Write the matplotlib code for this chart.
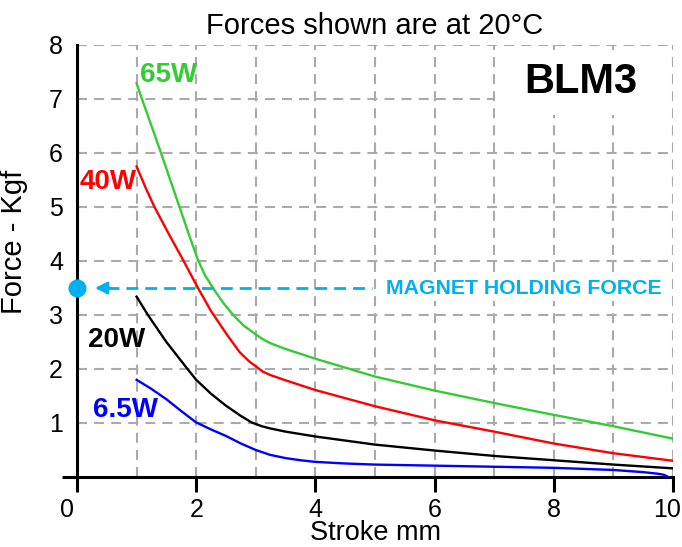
import matplotlib
matplotlib.use("Agg")
import matplotlib.pyplot as plt
import matplotlib.transforms as mtransforms
from matplotlib.patches import Rectangle

plt.rcParams['font.family'] = ['Liberation Sans', 'DejaVu Sans']

# Force (kgf) vs stroke (mm) for each coil power
x_65w = [1.0, 1.09, 1.41, 1.72, 1.9, 2.03, 2.15, 2.33, 2.45, 2.62, 2.8, 3.0, 3.12, 3.24, 3.5,
         4.0, 5.0, 6.0, 7.0, 8.0, 9.0, 10.0]
y_65w = [7.29, 7.0, 6.0, 5.0, 4.42, 4.02, 3.73, 3.42, 3.23, 3.0, 2.8, 2.64, 2.55, 2.48, 2.37,
         2.19, 1.86, 1.60, 1.37, 1.15, 0.94, 0.71]

x_40w = [1.0, 1.15, 1.3, 1.55, 1.78, 2.01, 2.25, 2.52, 2.73, 2.9, 3.0, 3.12, 3.24, 3.5, 4.0, 5.0,
         6.0, 7.0, 8.0, 9.0, 10.0]
y_40w = [5.75, 5.36, 5.0, 4.48, 4.02, 3.54, 3.07, 2.63, 2.31, 2.13, 2.05, 1.95, 1.89, 1.79, 1.61, 1.31,
         1.05, 0.84, 0.62, 0.44, 0.30]

x_20w = [1.0, 1.19, 1.5, 1.84, 2.0, 2.25, 2.5, 2.75, 2.93, 3.1, 3.24, 3.5, 4.0, 5.0, 6.0, 7.0,
         8.0, 9.0, 10.0]
y_20w = [3.34, 3.0, 2.5, 2.02, 1.8, 1.54, 1.32, 1.13, 1.01, 0.94, 0.90, 0.84, 0.75, 0.60, 0.49, 0.39,
         0.31, 0.23, 0.16]

x_6w5 = [1.0, 1.25, 1.5, 1.75, 2.0, 2.25, 2.5, 2.75, 3.0, 3.24, 3.5, 3.75, 4.0, 4.5, 5.0, 6.0,
         7.0, 8.0, 9.0, 9.5, 9.75, 9.85, 9.92]
y_6w5 = [1.80, 1.63, 1.44, 1.22, 1.01, 0.88, 0.76, 0.62, 0.50, 0.41, 0.35, 0.31, 0.28, 0.25, 0.23, 0.21,
         0.19, 0.17, 0.13, 0.09, 0.06, 0.04, 0.0]

holding_force = 3.5

x_major = [0, 2, 4, 6, 8, 10]
x_minor = [1, 3, 5, 7, 9]
y_major = [1, 2, 3, 4, 5, 6, 7, 8]

green = '#33CC33'
red = '#FF0000'
blue = '#0000FF'
cyan = '#00B0F0'

fig = plt.figure(figsize=(6.82, 5.47), dpi=100)
ax = fig.add_axes([77 / 682, 1 - 477 / 547, 596 / 682, 432 / 547])

ax.set_xlim(0, 10)
ax.set_ylim(0, 8)

# axes and grid
for side in ['top', 'right']:
    ax.spines[side].set_visible(False)
for side in ['left', 'bottom']:
    ax.spines[side].set_linewidth(2.2)

ax.set_xticks(x_major)
ax.set_xticks(x_minor, minor=True)
ax.set_yticks(y_major)
ax.set_yticks([0], minor=True)
ax.tick_params(axis='x', which='major', length=11, width=2.2, labelsize=18, pad=4)
ax.tick_params(axis='x', which='minor', length=0)
ax.tick_params(axis='y', which='major', length=0, labelsize=18, pad=10)
ax.tick_params(axis='y', which='minor', length=11, width=2.2)

ax.set_axisbelow(True)
grid_kw = dict(color='#AAAAAA', linewidth=1.5, linestyle=(0, (4.8, 3.4)))
ax.grid(True, which='major', **grid_kw)
ax.xaxis.grid(True, which='minor', **grid_kw)

# white box behind the model name
ax.add_patch(Rectangle((7.02, 6.70), 2.9, 1.2, facecolor='white', edgecolor='none', zorder=1))

# curves
ax.plot(x_65w, y_65w, color=green, lw=1.7, zorder=3)
ax.plot(x_40w, y_40w, color=red, lw=1.7, zorder=3)
ax.plot(x_20w, y_20w, color='black', lw=1.7, zorder=3)
ax.plot(x_6w5, y_6w5, color=blue, lw=1.7, zorder=3)

ax.text(1.05, 7.45, '65W', color=green, fontsize=20, fontweight='bold', va='center', ha='left')
ax.text(0.05, 5.46, '40W', color=red, fontsize=20, fontweight='bold', va='center', ha='left')
ax.text(0.19, 2.54, '20W', color='black', fontsize=20, fontweight='bold', va='center', ha='left')
ax.text(0.27, 1.24, '6.5W', color=blue, fontsize=20, fontweight='bold', va='center', ha='left')

ax.text(8.45, 7.32, 'BLM3', fontsize=30, fontweight='bold', va='center', ha='center', zorder=4)

# magnet holding force marker
ax.plot([0.5, 4.95], [holding_force, holding_force], color=cyan, lw=2, dashes=(4.3, 2.5), zorder=3)
ax.annotate('', xy=(0.3, holding_force), xytext=(0.55, holding_force),
            arrowprops=dict(arrowstyle='-|>', color=cyan, lw=2, mutation_scale=18, shrinkA=0, shrinkB=0),
            zorder=3)
ax.plot([0], [holding_force], 'o', color=cyan, markersize=12, clip_on=False, zorder=5)
ax.text(5.18, holding_force, 'MAGNET HOLDING FORCE', color=cyan, fontsize=15.3, fontweight='bold',
        va='center', ha='left', zorder=4,
        bbox=dict(boxstyle='square,pad=0.15', facecolor='white', edgecolor='none'))

ax.set_title('Forces shown are at 20°C', fontsize=21, pad=8)
ax.set_xlabel('Stroke mm', fontsize=19.5, labelpad=-1.5)
ax.set_ylabel('Force - Kgf', fontsize=21)
ax.yaxis.set_label_coords(-0.082, 0.544)

# the first and last stroke labels sit a little to the left of their ticks
xlabels = ax.get_xticklabels()
xlabels[0].set_transform(xlabels[0].get_transform() + mtransforms.ScaledTranslation(-0.10, 0, fig.dpi_scale_trans))
xlabels[-1].set_transform(xlabels[-1].get_transform() + mtransforms.ScaledTranslation(-0.06, 0, fig.dpi_scale_trans))

fig.savefig('out.png', dpi=100)
